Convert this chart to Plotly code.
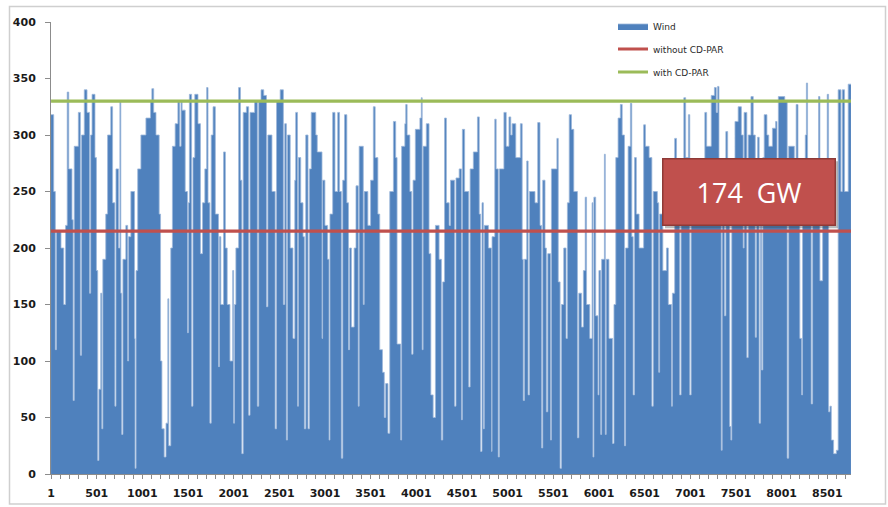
import plotly.graph_objects as go

wind_hours = [
    1, 30, 48, 60, 110, 140, 160, 178, 195, 230, 243, 255, 300, 322, 335, 365, 395, 422, 435, 450,
    482, 498, 512, 525, 545, 557, 568, 600, 620, 655, 675, 700, 712, 740, 755, 765, 775, 788, 820, 840,
    850, 875, 915, 921, 932, 950, 985, 1040, 1090, 1105, 1125, 1150, 1185, 1200, 1215, 1240, 1260, 1280, 1290, 1312,
    1330, 1360, 1390, 1410, 1425,
    1436, 1470, 1495, 1505, 1516, 1540, 1555, 1575, 1610, 1637, 1660, 1685, 1705, 1720, 1740, 1755, 1775, 1800, 1835, 1845,
    1860, 1890, 1910, 1930, 1960, 1990, 2000, 2010, 2025, 2055, 2075, 2090, 2105, 2140, 2165, 2180, 2230, 2260, 2275, 2300,
    2330, 2360, 2375, 2420, 2455, 2470, 2510, 2545, 2560, 2578, 2590, 2620, 2650, 2670, 2680, 2700, 2710, 2735, 2760, 2775,
    2790, 2815, 2830, 2850, 2900,
    2916, 2968, 2975, 3000, 3030, 3045, 3055, 3085, 3110, 3140, 3160, 3180, 3195, 3215, 3240, 3258, 3270, 3290, 3320, 3340,
    3365, 3375, 3420, 3430, 3470, 3500, 3530, 3550, 3580, 3600, 3630, 3650, 3665, 3690, 3710, 3750, 3775, 3790, 3830, 3840,
    3875, 3885, 3900, 3930, 3950, 3965, 3990, 4040, 4055, 4065, 4075, 4110, 4140, 4160, 4185, 4210, 4250, 4275, 4290, 4310,
    4330, 4360,
    4375, 4420, 4435, 4470, 4495, 4505, 4530, 4575, 4590, 4625, 4670, 4690, 4705, 4720, 4735, 4745, 4790, 4825, 4830, 4860,
    4875, 4898, 4910, 4960, 4985, 5015, 5035, 5050, 5090, 5140, 5160, 5172, 5185, 5210, 5225, 5240, 5300, 5330, 5355, 5373,
    5385, 5410, 5425, 5440, 5470, 5480, 5540, 5555, 5575, 5590, 5615, 5640, 5655, 5675, 5700, 5725, 5765, 5780, 5810, 5830,
    5850, 5865, 5900, 5925, 5935, 5945, 5965, 5990, 6000, 6020, 6030, 6060, 6070, 6080, 6110, 6150, 6165, 6185, 6210, 6235,
    6255, 6280, 6292, 6320, 6345, 6360, 6375, 6390, 6410, 6440, 6490, 6510, 6550, 6580, 6595, 6640, 6655, 6665, 6700, 6740,
    6760, 6795, 6805, 6830, 6850, 6885, 6900, 6930, 6950, 6980, 6995, 7010, 7050, 7100, 7160, 7180, 7230, 7265, 7285,
    7300, 7315, 7340, 7350, 7375, 7390, 7410, 7432, 7445, 7455, 7490, 7525, 7560, 7580, 7590, 7620, 7635, 7665, 7690, 7712,
    7725, 7738, 7755, 7770, 7782, 7795, 7810, 7840, 7860, 7900, 7935, 7950, 7965, 8000, 8035, 8062, 8078, 8140, 8160, 8180,
    8200, 8220, 8230, 8260, 8272, 8285, 8325, 8340, 8380, 8405, 8420, 8450, 8500, 8515, 8530, 8545, 8570, 8600, 8620, 8650,
    8665, 8690, 8730, 8760,
]
wind_gw = [
    318, 250, 110, 215, 200, 150, 220, 338, 270, 225, 65, 290, 320, 105, 300, 340, 320, 160, 300, 336,
    280, 180, 12, 75, 160, 40, 190, 230, 300, 325, 240, 60, 270, 200, 330, 160, 35, 190, 220, 100,
    210, 250, 120, 5, 180, 270, 300, 315, 330, 341, 320, 300, 230, 100, 40, 15, 45, 155, 25, 200,
    290, 310, 330, 290, 330,
    322, 250, 125, 240, 336, 60, 280, 336, 310, 195, 240, 270, 342, 240, 45, 300, 325, 230, 95, 210,
    150, 285, 200, 150, 100, 180, 45, 150, 200, 342, 260, 18, 320, 325, 52, 320, 330, 60, 330, 340,
    335, 148, 300, 250, 40, 330, 340, 150, 310, 30, 300, 200, 120, 260, 320, 60, 280, 240, 210, 40,
    300, 40, 270, 320, 300,
    285, 120, 260, 220, 190, 30, 230, 320, 250, 320, 250, 14, 260, 318, 240, 110, 200, 130, 200, 255,
    60, 290, 150, 250, 220, 260, 325, 280, 230, 110, 90, 50, 80, 36, 250, 312, 280, 115, 30, 290,
    310, 327, 300, 250, 106, 260, 305, 315, 333, 110, 290, 310, 195, 70, 50, 220, 190, 30, 170, 315,
    240, 220,
    260, 60, 262, 270, 48, 305, 250, 77, 270, 285, 316, 230, 20, 240, 40, 220, 200, 20, 210, 314,
    270, 15, 270, 320, 290, 316, 300, 310, 280, 310, 190, 65, 190, 277, 70, 250, 240, 311, 220, 23,
    260, 200, 55, 195, 30, 270, 297, 170, 5, 150, 200, 120, 240, 318, 305, 250, 32, 160, 130, 180,
    245, 150, 120, 240, 15, 245, 140, 70, 180, 35, 190, 283, 35, 190, 120, 27, 150, 280, 315, 327,
    300, 25, 200, 290, 328, 210, 70, 280, 230, 200, 309, 290, 280, 60, 250, 240, 90, 230, 180, 200,
    150, 60, 160, 297, 220, 70, 240, 333, 280, 318, 70, 260, 220, 240, 320, 290, 335, 342, 320,
    343, 260, 21, 250, 140, 303, 250, 42, 30, 260, 312, 325, 300, 200, 320, 103, 300, 334, 300, 121,
    260, 298, 45, 260, 92, 280, 318, 300, 290, 306, 312, 260, 334, 334, 330, 14, 290, 270, 327, 230,
    120, 70, 240, 300, 346, 250, 62, 260, 240, 334, 171, 250, 336, 55, 60, 30, 18, 21, 340, 250,
    340, 250, 345, 345,
]

series_names = ["Wind", "without CD-PAR", "with CD-PAR"]
capacity_without = 215
capacity_with = 330
annotation_text = "174  GW"

x_tick_vals = [1, 501, 1001, 1501, 2001, 2501, 3001, 3501, 4001, 4501, 5001, 5501, 6001, 6501, 7001, 7501, 8001, 8501]
x_tick_text = [str(v) for v in x_tick_vals]
y_tick_vals = [0, 50, 100, 150, 200, 250, 300, 350, 400]

BLUE = "#4F81BD"
RED = "#C0504D"
GREEN = "#9BBB59"

# plot area geometry (pixels) for paper conversions
L, R, T, B = 51, 851, 21.5, 474
W, H = R - L, B - T


def px(xp):
    return (xp - L) / W


def py(yp):
    return (B - yp) / H


fig = go.Figure()
fig.add_trace(go.Scatter(
    x=wind_hours, y=wind_gw, name=series_names[0], mode="lines",
    line=dict(shape="hv", color="#9DB7DB", width=0.8),
    fill="tozeroy", fillcolor=BLUE, legendgroup="a",
))
fig.add_trace(go.Scatter(
    x=[1, 8760], y=[capacity_without, capacity_without], name=series_names[1], mode="lines",
    line=dict(color=RED, width=3.2), legendgroup="b",
))
fig.add_trace(go.Scatter(
    x=[1, 8760], y=[capacity_with, capacity_with], name=series_names[2], mode="lines",
    line=dict(color=GREEN, width=3.2), legendgroup="c",
))

tick_font = dict(family="DejaVu Sans", size=11, color="#1a1a1a", weight="bold")

fig.update_layout(
    width=888, height=507,
    margin=dict(l=L, r=888 - R, t=T, b=507 - B, autoexpand=False),
    paper_bgcolor="white", plot_bgcolor="white",
    showlegend=True,
    legend=dict(
        x=px(613), y=py(11), xanchor="left", yanchor="top",
        font=dict(family="DejaVu Sans", size=9, color="#2a2a2a"),
        bgcolor="rgba(0,0,0,0)", tracegroupgap=4, traceorder="grouped",
        itemwidth=30,
    ),
    xaxis=dict(
        range=[0.5, 8760.5], showgrid=False, zeroline=False,
        showline=True, linecolor="#8c8c8c", linewidth=1,
        tickmode="array", tickvals=x_tick_vals, ticktext=x_tick_text,
        ticks="outside", ticklen=4, tickcolor="#8c8c8c",
        minor=dict(dtick=100, tick0=1, ticks="outside", ticklen=4, tickcolor="#8c8c8c"),
        tickfont=tick_font, ticklabelstandoff=5,
    ),
    yaxis=dict(
        range=[0, 400], showgrid=False, zeroline=False,
        showline=True, linecolor="#8c8c8c", linewidth=1,
        tickmode="array", tickvals=y_tick_vals,
        ticks="outside", ticklen=5, tickcolor="#8c8c8c",
        tickfont=tick_font, ticklabelstandoff=7,
    ),
    shapes=[
        dict(type="rect", xref="paper", yref="paper",
             x0=px(9.5), x1=px(885.5), y0=py(504), y1=py(6),
             line=dict(color="#cfcfcf", width=1.5), fillcolor="rgba(0,0,0,0)", layer="below"),
        dict(type="rect", xref="paper", yref="paper",
             x0=px(665), x1=px(838), y0=py(228), y1=py(161),
             line=dict(width=0), fillcolor="rgba(60,60,60,0.35)", layer="above"),
    ],
    annotations=[
        dict(text=annotation_text, xref="paper", yref="paper",
             x=px(748.5), y=py(191.5), xanchor="center", yanchor="middle",
             showarrow=False, width=171, height=65, borderpad=0,
             bgcolor="#C0504D", bordercolor="#8E3A37", borderwidth=1.5,
             font=dict(family="Open Sans", size=27, color="white")),
    ],
)

fig.write_html("out.html", config={"displayModeBar": False},
               post_script="document.body.style.margin='0';")
